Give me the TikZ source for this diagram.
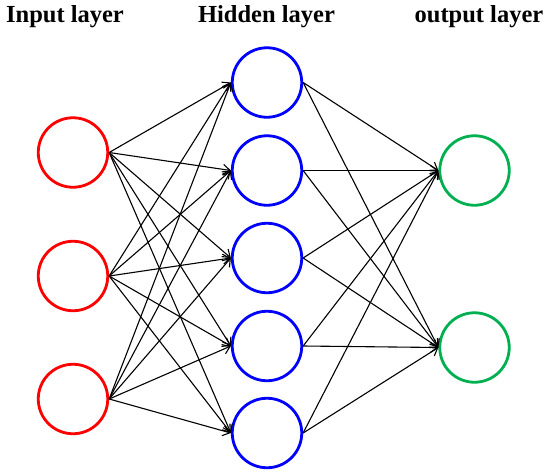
\documentclass[tikz,border=0pt]{standalone}
\usepackage{fontspec}
\setmainfont{Liberation Serif}
\usetikzlibrary{arrows.meta}
\definecolor{inred}{RGB}{255,0,0}
\definecolor{hidblue}{RGB}{0,0,255}
\definecolor{outgreen}{RGB}{0,176,80}
\begin{document}
\begin{tikzpicture}[x=1pt,y=-1pt,
  neuron/.style={circle,minimum size=69.5pt,inner sep=0pt,line width=2.8pt,draw},
  conn/.style={line width=1.1pt,-{Straight Barb[length=7pt,width=10pt,line width=1.1pt]}},
  title/.style={font=\fontsize{24.5}{28}\selectfont\bfseries,anchor=base}]
\useasboundingbox (0,0) rectangle (550,475);
\node[title] (t1) at (65,22.5) {Input layer};
\node[title] (t2) at (266.5,22.5) {Hidden layer};
\node[title] (t3) at (479,22.5) {output layer};
\foreach \i/\y in {1/152.5,2/276,3/399}
  \node[neuron,draw=inred] (i\i) at (73,\y) {};
\foreach \i/\y in {1/82.5,2/170.5,3/258,4/346,5/433}
  \node[neuron,draw=hidblue] (h\i) at (267,\y) {};
\foreach \i/\y in {1/170.5,2/347.5}
  \node[neuron,draw=outgreen] (o\i) at (474.5,\y) {};
\foreach \a in {1,2,3}
  \foreach \b in {1,...,5}
    \draw[conn] (i\a.east) -- (h\b.west);
\foreach \a in {1,...,5}
  \foreach \b in {1,2}
    \draw[conn] (h\a.east) -- (o\b.west);
\end{tikzpicture}
\end{document}
